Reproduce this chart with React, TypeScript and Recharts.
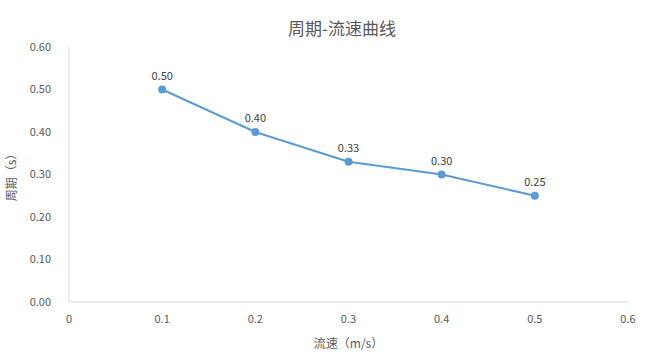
import { LineChart, Line, XAxis, YAxis, LabelList } from 'recharts'

const speeds = [0.1, 0.2, 0.3, 0.4, 0.5]
const periods = [0.5, 0.4, 0.33, 0.3, 0.25]
const xTicks = [0, 0.1, 0.2, 0.3, 0.4, 0.5, 0.6]
const yTicks = [0, 0.1, 0.2, 0.3, 0.4, 0.5, 0.6]

const font = "'Noto Sans CJK SC', 'Noto Sans', sans-serif"
const tickStyle = { fontSize: 11, fill: '#595959', fontFamily: font }

export default function App() {
  const data = speeds.map((s, i) => ({ speed: s, period: periods[i] }))
  return (
    <div style={{ position: 'absolute', left: 0, top: 0, width: 647, height: 360, background: '#fff' }}>
      <div style={{ position: 'absolute', top: 15, left: 0, width: 684, textAlign: 'center', fontFamily: font, fontSize: 17, color: '#595959' }}>
        周期-流速曲线
      </div>
      <LineChart width={647} height={360} data={data} margin={{ top: 47, right: 19, bottom: 0, left: 0 }} style={{ fontFamily: font }}>
        <XAxis
          dataKey="speed"
          type="number"
          domain={[0, 0.6]}
          ticks={xTicks}
          tickFormatter={(v: number) => String(v)}
          tick={tickStyle}
          tickLine={false}
          axisLine={{ stroke: '#d9d9d9' }}
          tickMargin={7}
          height={58}
          label={{ value: '流速（m/s）', position: 'insideBottom', offset: 12, style: { fontSize: 12, fill: '#595959', fontFamily: font } }}
        />
        <YAxis
          type="number"
          domain={[0, 0.6]}
          ticks={yTicks}
          tickFormatter={(v: number) => v.toFixed(2)}
          tick={tickStyle}
          tickLine={false}
          axisLine={{ stroke: '#d9d9d9' }}
          tickMargin={12}
          width={69}
          label={{ value: '周期（s）', angle: -90, position: 'insideLeft', offset: 12, style: { fontSize: 12, fill: '#595959', fontFamily: font, textAnchor: 'middle' } }}
        />
        <Line
          dataKey="period"
          stroke="#5b9bd5"
          strokeWidth={2}
          dot={{ r: 3, fill: '#5b9bd5', stroke: '#5b9bd5' }}
          isAnimationActive={false}
        >
          <LabelList dataKey="period" position="top" offset={10} formatter={(v: any) => Number(v).toFixed(2)} style={{ fontSize: 11, fill: '#404040', fontFamily: font }} />
        </Line>
      </LineChart>
    </div>
  )
}
